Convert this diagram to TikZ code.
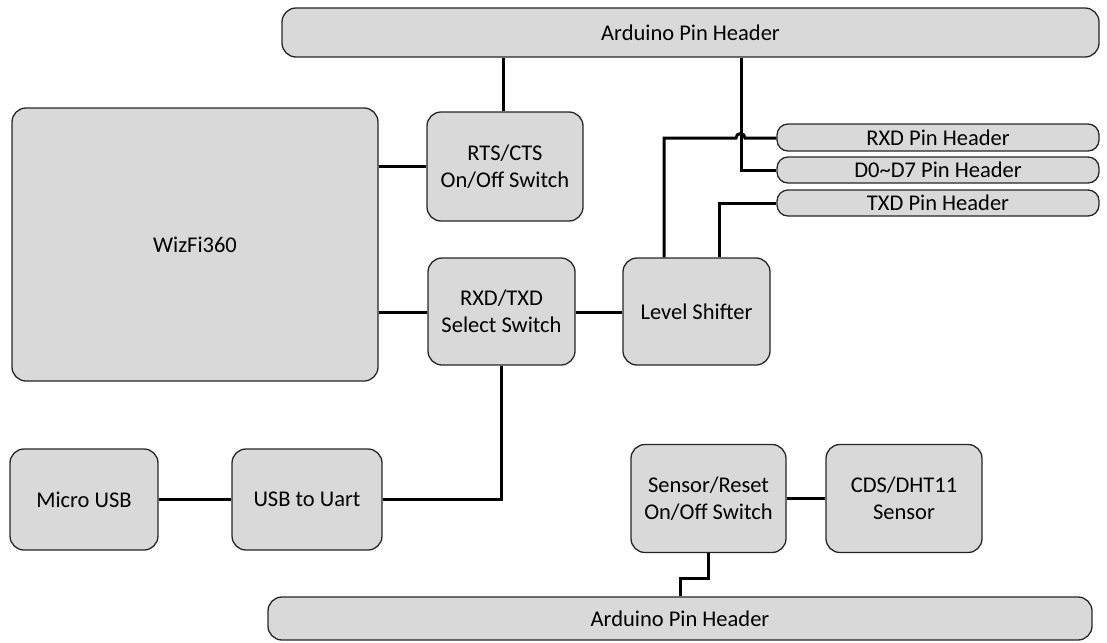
\documentclass[tikz,border=0pt]{standalone}
\usepackage{fontspec}
\setmainfont{Carlito}
\begin{document}
\begin{tikzpicture}[x=1pt,y=-1pt,
  blk/.style={draw=black!85, line width=1.3pt, fill=gray!30, rounded corners=14pt, align=center,
    inner sep=0pt, font=\fontsize{22.5}{26.5}\selectfont},
  pin/.style={blk, rounded corners=11pt},
  wire/.style={line width=3pt, black}]
\useasboundingbox (0,0) rectangle (1107,642);
\node[blk, minimum width=817pt, minimum height=49pt] (top) at (690.5,32.5) {Arduino Pin Header};
\node[blk, minimum width=156pt, minimum height=109pt] (rts) at (505,166.5) {RTS/CTS\\On/Off Switch};
\node[blk, minimum width=366pt, minimum height=273pt] (wiz) at (195,244.5) {WizFi360};
\node[blk, minimum width=147pt, minimum height=107pt] (rxtx) at (501.5,311.5) {RXD/TXD\\Select Switch};
\node[blk, minimum width=147pt, minimum height=107pt] (ls) at (696.5,311.5) {Level Shifter};
\node[pin, minimum width=322pt, minimum height=27pt] (rxdh) at (938,137.5) {RXD Pin Header};
\node[pin, minimum width=322pt, minimum height=26pt] (d0h) at (938,170) {D0\textasciitilde D7 Pin Header};
\node[pin, minimum width=322pt, minimum height=26pt] (txdh) at (938,203) {TXD Pin Header};
\node[blk, minimum width=148pt, minimum height=101pt] (musb) at (84,499.5) {Micro USB};
\node[blk, minimum width=150pt, minimum height=101pt] (uart) at (307,499.5) {USB to Uart};
\node[blk, minimum width=155pt, minimum height=108pt] (sens) at (708.5,498.5) {Sensor/Reset\\On/Off Switch};
\node[blk, minimum width=156pt, minimum height=108pt] (cds) at (904,498.5) {CDS/DHT11\\Sensor};
\node[blk, minimum width=824pt, minimum height=43pt] (bot) at (680,618.5) {Arduino Pin Header};

\draw[wire] (rts.north -| 503,0) -- (top.south -| 503,0);
\draw[wire] (wiz.east |- 0,166) -- (rts.west |- 0,166);
\draw[wire] (wiz.east |- 0,312) -- (rxtx.west |- 0,312);
\draw[wire] (rxtx.east |- 0,312) -- (ls.west |- 0,312);
\draw[wire] (ls.north -| 664,0) -- (664,138) -- (736,138) arc[start angle=180, end angle=360, radius=4.5] -- (rxdh.west |- 0,138);
\draw[wire] (top.south -| 741,0) |- (d0h.west);
\draw[wire] (ls.north -| 719,0) |- (txdh.west);
\draw[wire] (rxtx.south) |- (uart.east);
\draw[wire] (musb.east) -- (uart.west);
\draw[wire] (sens.east) -- (cds.west);
\draw[wire] (sens.south) -- (sens.south |- 0,578) -| (bot.north);
\end{tikzpicture}
\end{document}
